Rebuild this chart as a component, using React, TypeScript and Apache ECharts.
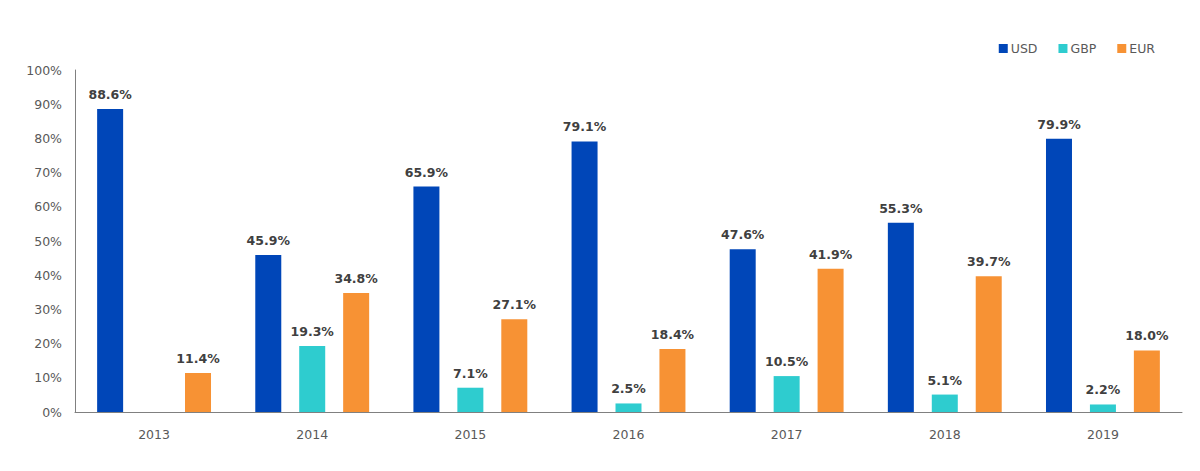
import React, { useEffect, useRef } from "react";
import * as echarts from "echarts";

const categories = ["2013", "2014", "2015", "2016", "2017", "2018", "2019"];
const usd = [88.6, 45.9, 65.9, 79.1, 47.6, 55.3, 79.9];
const gbp = [null, 19.3, 7.1, 2.5, 10.5, 5.1, 2.2];
const eur = [11.4, 34.8, 27.1, 18.4, 41.9, 39.7, 18.0];
const yTicks = [0, 10, 20, 30, 40, 50, 60, 70, 80, 90, 100];

const FONT = "'DejaVu Sans', 'Noto Sans', sans-serif";

export default function App() {
  const ref = useRef<HTMLDivElement>(null);
  useEffect(() => {
    if (!ref.current) return;
    const chart = echarts.init(ref.current, null, { renderer: "svg" });
    const label = {
      show: true,
      position: "top",
      distance: 8,
      fontFamily: FONT,
      fontWeight: "bold",
      fontSize: 12.5,
      color: "#404040",
      formatter: (p: any) => (p.value == null ? "" : p.value.toFixed(1) + "%"),
    };
    const mk = (name: string, data: any[], color: string) => ({
      name,
      type: "bar",
      data,
      barWidth: 26,
      barGap: "69%",
      itemStyle: { color },
      label,
    });
    chart.setOption({
      animation: false,
      backgroundColor: "#ffffff",
      textStyle: { fontFamily: FONT },
      legend: {
        top: 37,
        right: 40,
        itemWidth: 9,
        itemHeight: 9,
        itemGap: 21,
        icon: "rect",
        textStyle: { fontFamily: FONT, fontSize: 12.5, color: "#595959", padding: [0, 0, 0, -2] },
        data: ["USD", "GBP", "EUR"],
      },
      grid: { left: 75, right: 18, top: 70, bottom: 59, containLabel: false },
      xAxis: {
        type: "category",
        data: categories,
        axisLine: { lineStyle: { color: "#808080", width: 1 } },
        axisTick: { show: false },
        axisLabel: { fontFamily: FONT, fontSize: 12.5, color: "#595959", margin: 16 },
      },
      yAxis: {
        type: "value",
        min: yTicks[0],
        max: yTicks[yTicks.length - 1],
        interval: 10,
        axisLine: { show: true, lineStyle: { color: "#808080", width: 1 } },
        axisTick: { show: false },
        splitLine: { show: false },
        axisLabel: {
          fontFamily: FONT,
          fontSize: 12.5,
          color: "#595959",
          margin: 13,
          formatter: (v: number) => v + "%",
        },
      },
      series: [
        mk("USD", usd, "#0046B8"),
        mk("GBP", gbp, "#2ECCCF"),
        mk("EUR", eur, "#F79234"),
      ],
    });
    return () => chart.dispose();
  }, []);
  return (
    <div
      ref={ref}
      style={{ position: "fixed", left: 0, top: 0, width: 1200, height: 471, background: "#fff" }}
    />
  );
}
